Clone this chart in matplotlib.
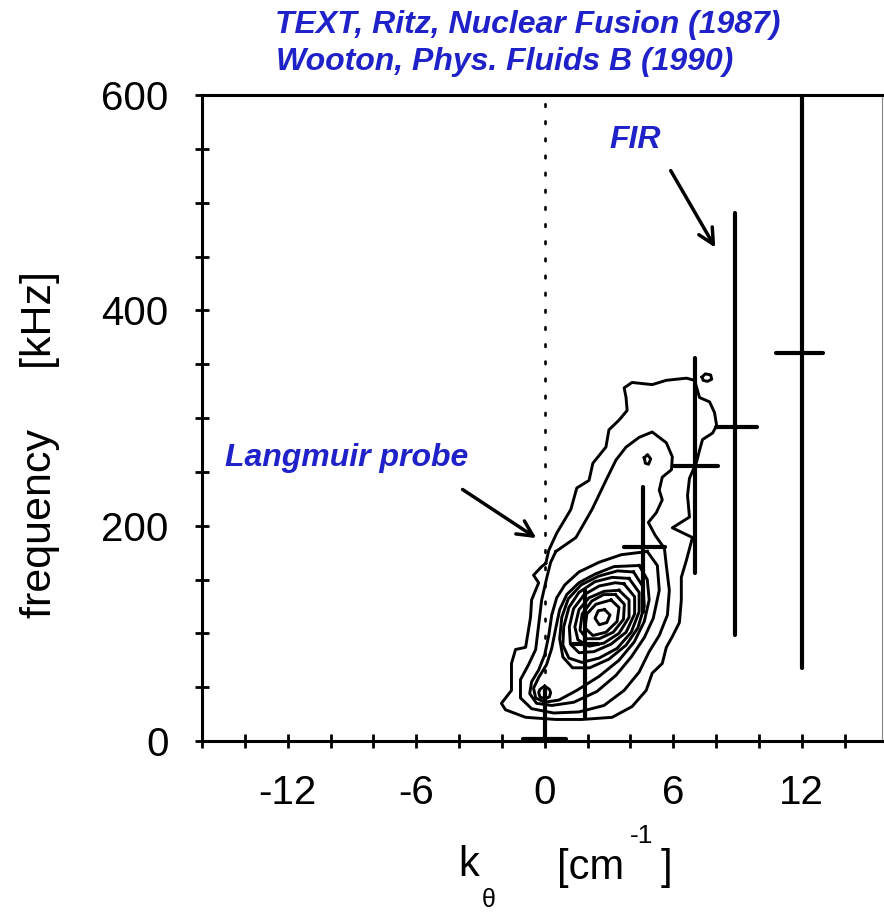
import matplotlib
matplotlib.use("Agg")
import matplotlib.pyplot as plt
import numpy as np

plt.rcParams['font.family'] = ['Liberation Sans', 'DejaVu Sans']

W, H = 884, 914

# ---- error-bar crosses (k in cm^-1, f in kHz) ----
bar_k    = [0.0, 1.9, 4.6, 7.0, 8.9, 12.0]
bar_f    = [2, 90, 180, 255, 292, 360]
bar_k_lo = [-1.0, 1.3, 3.7, 6.05, 8.0, 10.8]
bar_k_hi = [1.0, 2.5, 5.6, 8.1, 9.9, 13.0]
bar_f_lo = [0, 22, 120, 156, 98, 68]
bar_f_hi = [47, 140, 236, 356, 490, 600]

# ---- contour levels of S(k, f), traced as closed loops ----
contour_outer = [(0.05, 165), (0.19, 177), (0.56, 193), (1.22, 215), (1.50, 235),
                 (2.07, 242), (2.25, 258), (2.86, 273), (3.00, 289), (3.47, 298),
                 (3.85, 307), (3.80, 319), (3.71, 328), (4.08, 333), (5.02, 331),
                 (5.68, 335), (6.62, 337), (7.00, 335), (7.23, 319), (7.70, 315),
                 (7.93, 305), (8.03, 293), (7.84, 286), (7.37, 280), (7.23, 270),
                 (7.09, 259), (6.76, 244), (6.67, 228), (6.76, 208), (5.96, 198),
                 (6.90, 189), (6.62, 168), (6.38, 152), (6.38, 131), (6.29, 110),
                 (5.96, 97), (5.68, 87), (5.49, 72), (5.02, 63), (4.74, 47),
                 (4.08, 32), (3.15, 22), (1.74, 20), (0.52, 20), (-0.89, 22),
                 (-1.83, 29), (-2.02, 35), (-1.55, 47), (-1.55, 72), (-1.36, 85),
                 (-0.89, 87), (-0.66, 115), (-0.61, 131), (-0.28, 147), (-0.52, 154),
                 (-0.14, 162)]

contour_2 = [(0.52, 176), (1.46, 189), (2.21, 215), (2.86, 242), (3.33, 261),
             (3.80, 273), (4.41, 282), (5.02, 287), (5.68, 277), (5.96, 264),
             (5.92, 252), (5.49, 245), (5.35, 233), (5.49, 224), (5.21, 212),
             (4.84, 203), (5.16, 191), (5.59, 179), (5.68, 163), (5.82, 140),
             (5.73, 117), (5.35, 98), (4.88, 83), (4.41, 64), (3.71, 47),
             (2.77, 33), (1.60, 27), (0.42, 26), (-0.61, 30), (-1.13, 40),
             (-1.13, 57), (-0.75, 71), (-0.42, 85), (-0.28, 108), (-0.14, 131),
             (0.09, 151), (0.28, 166)]

contour_3 = [(4.79, 176), (5.26, 163), (5.35, 140), (5.07, 114), (4.65, 96),
             (4.04, 78), (3.33, 61), (2.44, 46), (1.36, 36), (0.33, 33),
             (-0.38, 35), (-0.70, 44), (-0.61, 55), (-0.28, 66), (0.0, 80),
             (0.19, 98), (0.33, 117), (0.56, 133), (0.94, 145), (1.60, 157),
             (2.54, 166), (3.57, 173)]

contour_4 = [(4.41, 163), (4.79, 150), (4.88, 131), (4.65, 111), (4.18, 92),
             (3.47, 75), (2.54, 60), (1.50, 47), (0.66, 38), (0.0, 36),
             (-0.42, 40), (-0.52, 49), (-0.28, 59), (0.09, 71), (0.33, 86),
             (0.52, 105), (0.70, 122), (1.03, 136), (1.60, 147), (2.35, 155),
             (3.24, 162)]

contour_4b = [(4.15, 157), (4.60, 143), (4.65, 125), (4.35, 105), (3.80, 89),
              (3.00, 76), (2.10, 68), (1.30, 68), (0.85, 78), (0.70, 95),
              (0.80, 115), (1.10, 132), (1.70, 145), (2.50, 153), (3.40, 158)]

contour_5 = [(3.94, 151), (4.41, 138), (4.41, 120), (4.04, 101), (3.38, 86),
             (2.54, 77), (1.74, 73), (1.13, 77), (0.85, 89), (0.89, 106),
             (1.13, 124), (1.60, 138), (2.35, 148), (3.15, 152)]

contour_5b = [(3.70, 146), (4.20, 134), (4.20, 118), (3.80, 101), (3.10, 90),
              (2.30, 83), (1.60, 82), (1.20, 90), (1.15, 106), (1.35, 123),
              (1.85, 136), (2.55, 144), (3.30, 147)]

contour_6 = [(3.47, 140), (3.94, 131), (3.94, 115), (3.47, 100), (2.77, 91),
             (2.07, 88), (1.55, 94), (1.41, 106), (1.60, 122), (2.07, 133),
             (2.77, 139)]

contour_6b = [(3.30, 136), (3.72, 127), (3.68, 113), (3.20, 101), (2.55, 95),
              (1.95, 95), (1.65, 103), (1.75, 118), (2.20, 130), (2.75, 136)]

contour_7 = [(3.10, 131), (3.47, 124), (3.38, 111), (2.86, 101), (2.25, 98),
             (1.88, 105), (1.97, 118), (2.39, 127)]

contour_8 = [(2.80, 122), (3.05, 117), (2.90, 110), (2.55, 108), (2.35, 114),
             (2.50, 121)]

contour_origin = [(0.0, 51), (0.22, 48), (0.28, 45), (0.22, 41), (0.0, 39),
                  (-0.22, 41), (-0.28, 45), (-0.22, 48)]

contour_fir_dot = [(7.35, 338), (7.50, 341), (7.75, 340), (7.80, 336),
                   (7.60, 334), (7.40, 335)]

contour_dot_a = [(4.65, 263), (4.80, 266), (4.95, 262), (4.85, 257), (4.70, 258)]

contours = [contour_outer, contour_2, contour_3, contour_4, contour_4b, contour_5,
            contour_5b, contour_6, contour_6b, contour_7, contour_8,
            contour_origin, contour_fir_dot, contour_dot_a]

x_major = [-12, -6, 0, 6, 12]
y_major = [0, 200, 400, 600]

blue = '#1f22c8'

fig = plt.figure(figsize=(W / 100, H / 100), dpi=100)
ax = fig.add_axes([202 / W, (H - 741) / H, (882 - 202) / W, (741 - 95) / H])
ax.set_xlim(-16, 15.75)
ax.set_ylim(0, 600)

# dotted k = 0 line
ax.plot([0, 0], [0, 600], color='black', lw=1.9, linestyle=(0, (1, 5.5)),
        dash_capstyle='round', zorder=2)

# contours
for c in contours:
    k = [p[0] for p in c] + [c[0][0]]
    f = [p[1] for p in c] + [c[0][1]]
    ax.plot(k, f, color='black', lw=2.1, solid_joinstyle='round', zorder=3)

# crosses
for k, f, klo, khi, flo, fhi in zip(bar_k, bar_f, bar_k_lo, bar_k_hi, bar_f_lo, bar_f_hi):
    ax.plot([k, k], [flo, fhi], color='black', lw=3.0, solid_capstyle='round', zorder=4)
    ax.plot([klo, khi], [f, f], color='black', lw=3.0, solid_capstyle='round', zorder=4)

# spines and ticks
for side in ['left', 'bottom', 'top']:
    ax.spines[side].set_linewidth(2.2)
ax.spines['right'].set_linewidth(0.8)
ax.spines['right'].set_color('#888888')

ax.set_xticks(x_major)
ax.set_xticks(np.arange(-16, 16, 2), minor=True)
ax.set_yticks(y_major)
ax.set_yticks(np.arange(0, 601, 50), minor=True)
ax.set_xticklabels([str(v) for v in x_major])
ax.set_yticklabels([str(v) for v in y_major])
ax.tick_params(which='both', direction='inout', length=10, width=2.0,
               top=False, right=False, labelsize=29, pad=19)

# annotations
ax.text(-9.25, 263, 'Langmuir probe', color=blue, fontsize=23, fontweight='bold',
        fontstyle='italic', ha='center', va='center')
ax.annotate('', xy=(-0.28, 187), xytext=(-3.94, 235),
            arrowprops=dict(arrowstyle='->', lw=2.5, color='black', mutation_scale=28))
ax.text(4.23, 558, 'FIR', color=blue, fontsize=23, fontweight='bold',
        fontstyle='italic', ha='center', va='center')
ax.annotate('', xy=(8.03, 456), xytext=(5.82, 532),
            arrowprops=dict(arrowstyle='->', lw=2.5, color='black', mutation_scale=28))

# titles
fig.text(275 / W, 1 - 25 / H, 'TEXT, Ritz, Nuclear Fusion (1987)', color=blue,
         fontsize=23, fontweight='bold', fontstyle='italic', ha='left', va='center')
fig.text(276 / W, 1 - 62 / H, 'Wooton, Phys. Fluids B (1990)', color=blue,
         fontsize=23, fontweight='bold', fontstyle='italic', ha='left', va='center')

# axis labels
fig.text(40 / W, 1 - 445 / H, 'frequency     [kHz]', rotation=90, fontsize=31,
         ha='center', va='center')
fig.text(469 / W, 1 - 865 / H, 'k', fontsize=30, ha='center', va='center')
fig.text(489 / W, 1 - 900 / H, 'θ', fontsize=18, ha='center', va='center')
fig.text(557 / W, 1 - 868 / H, '[cm', fontsize=30, ha='left', va='center')
fig.text(642 / W, 1 - 836 / H, '-1', fontsize=19, ha='center', va='center')
fig.text(666 / W, 1 - 868 / H, ']', fontsize=30, ha='center', va='center')

fig.savefig('out.png', dpi=100)
